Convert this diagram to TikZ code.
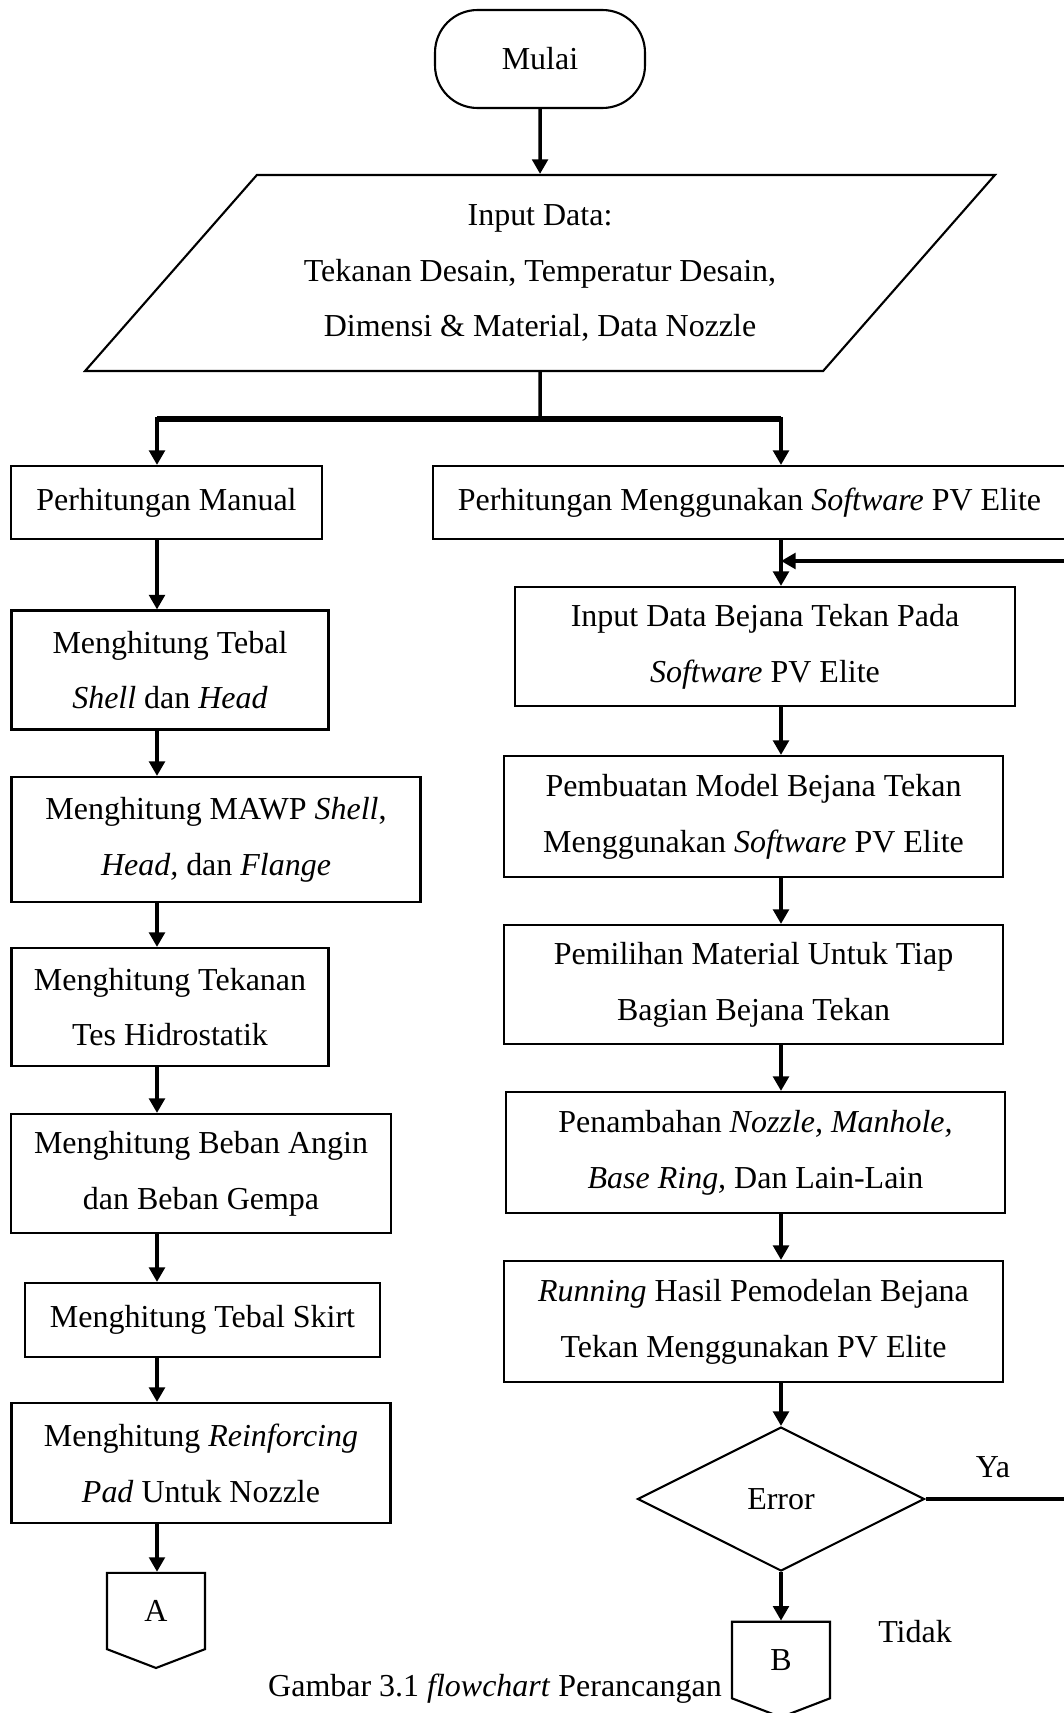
\documentclass[tikz,border=0pt]{standalone}
\usepackage{fontspec}
\setmainfont{Liberation Serif}
\usetikzlibrary{arrows.meta,positioning,shapes.geometric,shapes.symbols}

\begin{document}
\begin{tikzpicture}[
  x=0.02cm, y=-0.02cm,
  font=\fontsize{18.2}{31.8}\selectfont,
  box/.style={rectangle, draw, line width=1.2pt, align=center, inner sep=2pt},
  startstop/.style={rectangle, draw, line width=1.2pt, rounded corners=0.85cm,
                    minimum width=4.2cm, minimum height=1.96cm},
  io/.style={trapezium, draw, line width=1.2pt, trapezium left angle=41,
             trapezium right angle=139, trapezium stretches body,
             minimum width=18.2cm, minimum height=3.92cm, align=center},
  decision/.style={diamond, draw, line width=1.2pt, minimum width=5.74cm,
                   minimum height=2.88cm, inner sep=0pt},
  offpage/.style={signal, signal to=south, signal pointer angle=138, draw,
                  line width=1.2pt, minimum width=1.96cm, minimum height=1.66cm},
  arr/.style={-{Triangle[length=2.9mm, width=3.1mm]}, line width=2pt},
]
  \useasboundingbox (0,0) rectangle (1063,1713);

  % Start and input
  \node[startstop] (mulai) at (540,59) {Mulai};
  \node[io] (input) at (540,273) {Input Data:\\ Tekanan Desain, Temperatur Desain,\\ Dimensi \& Material, Data Nozzle};

  \coordinate (split) at (540,419);
  \coordinate (lcol) at (157,419);
  \coordinate (rcol) at (781,419);

  % Manual calculation
  \node[box, minimum width=6.22cm, minimum height=1.46cm] (manual) at (166.5,502.5) {Perhitungan Manual};
  \node[box, minimum width=6.34cm, minimum height=2.38cm] (tebal) at (170,670) {Menghitung Tebal\\ \textit{Shell} dan \textit{Head}};
  \node[box, minimum width=8.18cm, minimum height=2.5cm] (mawp) at (216,839.5) {Menghitung MAWP \textit{Shell},\\ \textit{Head,} dan \textit{Flange}};
  \node[box, minimum width=6.34cm, minimum height=2.36cm] (hidro) at (170,1007) {Menghitung Tekanan\\ Tes Hidrostatik};
  \node[box, minimum width=7.6cm, minimum height=2.38cm] (angin) at (201,1173.5) {Menghitung Beban Angin\\ dan Beban Gempa};
  \node[box, minimum width=7.1cm, minimum height=1.48cm] (skirt) at (202.5,1320) {Menghitung Tebal Skirt};
  \node[box, minimum width=7.58cm, minimum height=2.4cm] (reinf) at (201,1463) {Menghitung \textit{Reinforcing}\\ \textit{Pad} Untuk Nozzle};
  \node[offpage] (cona) at (156,1611) {A};

  % PV Elite
  \node[box, minimum width=12.66cm, minimum height=1.46cm] (soft) at (749.5,502.5) {Perhitungan Menggunakan \textit{Software} PV Elite};
  \node[box, minimum width=10cm, minimum height=2.38cm] (inbj) at (765,646.5) {Input Data Bejana Tekan Pada\\ \textit{Software} PV Elite};
  \node[box, minimum width=9.98cm, minimum height=2.42cm] (model) at (753.5,816.5) {Pembuatan Model Bejana Tekan\\ Menggunakan \textit{Software} PV Elite};
  \node[box, minimum width=9.98cm, minimum height=2.38cm] (mat) at (753.5,984.5) {Pemilihan Material Untuk Tiap\\ Bagian Bejana Tekan};
  \node[box, minimum width=9.98cm, minimum height=2.42cm] (nozz) at (755.5,1152.5) {Penambahan \textit{Nozzle, Manhole,}\\ \textit{Base Ring,} Dan Lain-Lain};
  \node[box, minimum width=9.98cm, minimum height=2.42cm] (run) at (753.5,1321.5) {\textit{Running} Hasil Pemodelan Bejana\\ Tekan Menggunakan PV Elite};
  \node[decision] (err) at (781,1499) {Error};
  \node[offpage] (conb) at (781,1660) {B};

  \node (ya) at (993,1467) {Ya};
  \node (tidak) at (915,1632) {Tidak};
  \node (caption) at (495,1689) {Gambar 3.1 \textit{flowchart} Perancangan};

  \coordinate (loopb) at (1090,1499);
  \coordinate (loopt) at (1090,561);

  % Arrows
  \draw[arr] (mulai) -- (input);
  \draw[line width=2pt] (input.south) -- (split);
  \draw[line width=3pt] (lcol) -- (rcol);
  \draw[arr] (split) -| (manual.north -| lcol);
  \draw[arr] (split) -| (soft.north -| rcol);

  \draw[arr] (manual.south -| lcol) -- (tebal.north -| lcol);
  \draw[arr] (tebal.south -| lcol) -- (mawp.north -| lcol);
  \draw[arr] (mawp.south -| lcol) -- (hidro.north -| lcol);
  \draw[arr] (hidro.south -| lcol) -- (angin.north -| lcol);
  \draw[arr] (angin.south -| lcol) -- (skirt.north -| lcol);
  \draw[arr] (skirt.south -| lcol) -- (reinf.north -| lcol);
  \draw[arr] (reinf.south -| lcol) -- (cona.north -| lcol);

  \draw[arr] (soft.south -| rcol) -- (inbj.north -| rcol);
  \draw[arr] (inbj.south -| rcol) -- (model.north -| rcol);
  \draw[arr] (model.south -| rcol) -- (mat.north -| rcol);
  \draw[arr] (mat.south -| rcol) -- (nozz.north -| rcol);
  \draw[arr] (nozz.south -| rcol) -- (run.north -| rcol);
  \draw[arr] (run.south -| rcol) -- (err.north);
  \draw[arr] (err.south) -- (conb.north);
  \draw[arr, line width=2.6pt] (err.east) -- (loopb) -- (loopt) -- (loopt -| rcol);
\end{tikzpicture}
\end{document}
